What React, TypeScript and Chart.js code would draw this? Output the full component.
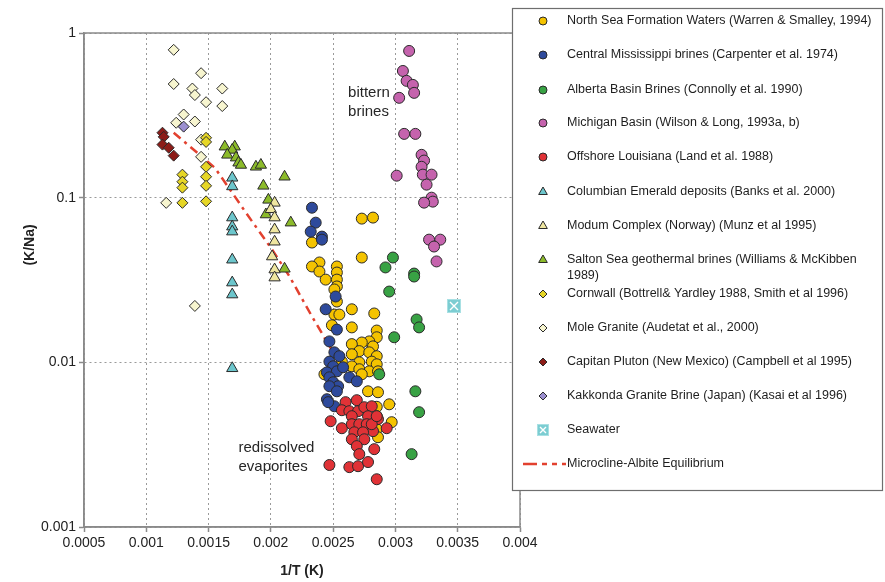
import React, { useEffect, useRef } from 'react';
import { Chart, registerables } from 'chart.js';

Chart.register(...registerables);

type P = [number, number];

const FONT = "'Liberation Sans', Arial, Helvetica, sans-serif";

const xTicks = [0.0005, 0.001, 0.0015, 0.002, 0.0025, 0.003, 0.0035, 0.004];
const yTicks = [0.001, 0.01, 0.1, 1];

const northSea: P[] = [
  [0.00233, 0.0534], [0.00239, 0.0404], [0.00233, 0.0382], [0.00239, 0.0356], [0.00244, 0.0318],
  [0.00253, 0.0382], [0.00253, 0.0351], [0.00253, 0.0318], [0.00253, 0.0289], [0.00251, 0.0277],
  [0.00253, 0.0234], [0.00251, 0.0195], [0.00255, 0.0195], [0.00265, 0.021], [0.00283, 0.0198],
  [0.00273, 0.0746], [0.00282, 0.0757], [0.00273, 0.0433], [0.00249, 0.0168], [0.00265, 0.0163],
  [0.00285, 0.0156], [0.00285, 0.0142], [0.00279, 0.0134], [0.00273, 0.0132], [0.00265, 0.0129],
  [0.00282, 0.0125], [0.00271, 0.0117], [0.00279, 0.0115], [0.00265, 0.0112], [0.00285, 0.0109],
  [0.00257, 0.0101], [0.00271, 0.01], [0.00281, 0.0101], [0.00285, 0.00973], [0.00265, 0.00946],
  [0.00271, 0.00908], [0.00279, 0.00882], [0.00286, 0.00882], [0.00243, 0.00846], [0.00273, 0.00846],
  [0.00278, 0.00667], [0.00286, 0.00658], [0.00295, 0.00556], [0.00285, 0.00537], [0.00285, 0.00471],
  [0.00297, 0.00433], [0.00285, 0.00393], [0.00286, 0.00351],
];

const centralMississippi: P[] = [
  [0.00233, 0.0869], [0.00236, 0.0705], [0.00232, 0.0622], [0.00241, 0.058], [0.00241, 0.0556],
  [0.00252, 0.0251], [0.00244, 0.021], [0.00253, 0.0158], [0.00247, 0.0134], [0.00251, 0.0115],
  [0.00255, 0.0109], [0.00247, 0.0101], [0.0025, 0.00946], [0.00245, 0.00869], [0.00253, 0.00882],
  [0.00247, 0.00811], [0.0025, 0.00757], [0.00254, 0.00716], [0.00247, 0.00716], [0.00263, 0.00811],
  [0.00269, 0.00767], [0.00245, 0.00597], [0.00251, 0.00541], [0.00258, 0.00933], [0.00253, 0.00667],
  [0.00246, 0.00573],
];

const albertaBasin: P[] = [
  [0.00298, 0.0433], [0.00292, 0.0377], [0.00315, 0.0346], [0.00315, 0.0332], [0.00295, 0.0269],
  [0.00317, 0.0182], [0.00319, 0.0163], [0.00299, 0.0142], [0.00287, 0.00846], [0.00316, 0.00667],
  [0.00319, 0.00498], [0.00313, 0.00277],
];

const michiganBasin: P[] = [
  [0.00311, 0.778], [0.00306, 0.588], [0.00309, 0.512], [0.00314, 0.484], [0.00315, 0.433],
  [0.00303, 0.404], [0.00307, 0.244], [0.00316, 0.244], [0.00321, 0.182], [0.00323, 0.168],
  [0.00321, 0.154], [0.00301, 0.136], [0.00322, 0.138], [0.00329, 0.138], [0.00325, 0.12],
  [0.00329, 0.1], [0.0033, 0.0946], [0.00323, 0.0933], [0.00327, 0.0556], [0.00336, 0.0556],
  [0.00331, 0.0505], [0.00333, 0.041],
];

const offshoreLouisiana: P[] = [
  [0.00248, 0.00439], [0.0026, 0.00573], [0.00269, 0.00589], [0.00257, 0.00512], [0.00263, 0.00505],
  [0.0027, 0.00505], [0.00265, 0.00471], [0.00275, 0.00534], [0.00281, 0.00541], [0.00278, 0.00471],
  [0.00286, 0.00452], [0.00257, 0.00398], [0.00265, 0.00421], [0.00271, 0.00421], [0.00277, 0.00421],
  [0.00282, 0.00382], [0.00267, 0.00376], [0.00274, 0.00376], [0.00265, 0.00341], [0.00275, 0.00341],
  [0.00269, 0.0031], [0.00283, 0.00297], [0.00271, 0.00277], [0.00293, 0.00398], [0.00247, 0.00238],
  [0.00263, 0.00231], [0.0027, 0.00234], [0.00278, 0.00248], [0.00285, 0.00195], [0.00281, 0.00421],
  [0.00285, 0.00471],
];

const columbianEmerald: P[] = [
  [0.00169, 0.132], [0.00169, 0.117], [0.00169, 0.0757], [0.00169, 0.0667], [0.00169, 0.0622],
  [0.00169, 0.042], [0.00169, 0.0305], [0.00169, 0.0258], [0.00169, 0.0092],
];

const modumComplex: P[] = [
  [0.00203, 0.093], [0.002, 0.085], [0.00203, 0.0757], [0.00203, 0.064], [0.00203, 0.054],
  [0.00201, 0.0439], [0.00203, 0.0366], [0.00203, 0.0327],
];

const saltonSea: P[] = [
  [0.00163, 0.204], [0.00171, 0.204], [0.00169, 0.195], [0.00165, 0.182], [0.00172, 0.175],
  [0.00174, 0.163], [0.00176, 0.158], [0.00188, 0.154], [0.00192, 0.158], [0.00194, 0.118],
  [0.00211, 0.134], [0.00198, 0.097], [0.00196, 0.079], [0.00216, 0.0705], [0.00211, 0.037],
];

const cornwall: P[] = [
  [0.00129, 0.138], [0.00129, 0.125], [0.00129, 0.115], [0.00129, 0.093], [0.00148, 0.231],
  [0.00148, 0.218], [0.00148, 0.154], [0.00148, 0.134], [0.00148, 0.118], [0.00148, 0.095],
];

const moleGranite: P[] = [
  [0.00122, 0.79], [0.00144, 0.57], [0.00122, 0.49], [0.00137, 0.46], [0.00139, 0.42],
  [0.00161, 0.46], [0.00148, 0.38], [0.00161, 0.36], [0.0013, 0.32], [0.00124, 0.285],
  [0.00139, 0.29], [0.00144, 0.225], [0.00144, 0.177], [0.00116, 0.093], [0.00139, 0.022],
];

const capitanPluton: P[] = [
  [0.00113, 0.248], [0.00114, 0.234], [0.00113, 0.21], [0.00118, 0.201], [0.00122, 0.18],
];

const kakkonda: P[] = [[0.0013, 0.27]];

const seawater: P[] = [[0.00347, 0.022]];

const microclineAlbite: P[] = [
  [0.00122, 0.248], [0.00155, 0.152], [0.00169, 0.107], [0.0018, 0.081], [0.00201, 0.0484],
  [0.00215, 0.0332], [0.00233, 0.019], [0.0025, 0.0115],
];

const seriesLabels = [
  'North Sea Formation Waters (Warren & Smalley, 1994)',
  'Central Mississippi brines (Carpenter et al. 1974)',
  'Alberta Basin Brines (Connolly et al. 1990)',
  'Michigan Basin (Wilson & Long, 1993a, b)',
  'Offshore Louisiana (Land et al. 1988)',
  'Columbian Emerald deposits (Banks et al. 2000)',
  'Modum Complex (Norway) (Munz et al 1995)',
  'Salton Sea geothermal brines (Williams & McKibben\n1989)',
  'Cornwall (Bottrell& Yardley 1988, Smith et al 1996)',
  'Mole Granite (Audetat et al., 2000)',
  'Capitan Pluton (New Mexico) (Campbell et al 1995)',
  'Kakkonda Granite Brine (Japan) (Kasai et al 1996)',
  'Seawater',
  'Microcline-Albite Equilibrium',
];

const annotationLabels = [
  { lines: ['bittern', 'brines'], x: 0.00262, y: [0.43, 0.33] },
  { lines: ['redissolved', 'evaporites'], x: 0.00174, y: [0.00301, 0.00231] },
];

function makeSeawaterIcon(size: number) {
  const c = document.createElement('canvas');
  c.width = size;
  c.height = size;
  const g = c.getContext('2d')!;
  g.fillStyle = '#7ccdd2';
  g.fillRect(0, 0, size, size);
  g.strokeStyle = '#a8e0e3';
  g.lineWidth = 1;
  g.strokeRect(0.5, 0.5, size - 1, size - 1);
  g.strokeStyle = '#ffffff';
  g.lineWidth = 1.4;
  g.beginPath();
  g.moveTo(3, 3);
  g.lineTo(size - 3, size - 3);
  g.moveTo(size - 3, 3);
  g.lineTo(3, size - 3);
  g.stroke();
  return c;
}

type Style = {
  shape: string;
  fill: string;
  radius: number;
  order: number;
};

const styles: Style[] = [
  { shape: 'circle', fill: '#f4c300', radius: 5.5, order: 5 },
  { shape: 'circle', fill: '#2e4a9c', radius: 5.5, order: 3 },
  { shape: 'circle', fill: '#38a244', radius: 5.5, order: 4 },
  { shape: 'circle', fill: '#c563ad', radius: 5.5, order: 4 },
  { shape: 'circle', fill: '#e03236', radius: 5.5, order: 2 },
  { shape: 'triangle', fill: '#6cc6cc', radius: 6.5, order: 6 },
  { shape: 'triangle', fill: '#efe6a0', radius: 6.5, order: 6 },
  { shape: 'triangle', fill: '#8cbb2a', radius: 6.5, order: 6 },
  { shape: 'rectRot', fill: '#e6d626', radius: 5.5, order: 6 },
  { shape: 'rectRot', fill: '#f7f5cf', radius: 5.5, order: 7 },
  { shape: 'rectRot', fill: '#8c1c18', radius: 5.5, order: 6 },
  { shape: 'rectRot', fill: '#9c90d0', radius: 5.5, order: 6 },
  { shape: 'image', fill: '#7ccdd2', radius: 7, order: 6 },
];

const seriesData: P[][] = [
  northSea, centralMississippi, albertaBasin, michiganBasin, offshoreLouisiana,
  columbianEmerald, modumComplex, saltonSea, cornwall, moleGranite, capitanPluton,
  kakkonda, seawater,
];

const LINE_COLOR = '#e2412f';
const LINE_DASH = [9, 5, 3, 5];

function drawMarker(ctx: CanvasRenderingContext2D, shape: string, x: number, y: number, r: number, fill: string) {
  ctx.save();
  ctx.fillStyle = fill;
  ctx.strokeStyle = '#2a2a2a';
  ctx.lineWidth = 1;
  ctx.beginPath();
  if (shape === 'circle') {
    ctx.arc(x, y, r, 0, Math.PI * 2);
  } else if (shape === 'triangle') {
    for (let i = 0; i < 3; i++) {
      const a = (i * 2 * Math.PI) / 3;
      const px = x + Math.sin(a) * r;
      const py = y - Math.cos(a) * r;
      if (i === 0) ctx.moveTo(px, py);
      else ctx.lineTo(px, py);
    }
  } else {
    ctx.moveTo(x - r, y);
    ctx.lineTo(x, y - r);
    ctx.lineTo(x + r, y);
    ctx.lineTo(x, y + r);
  }
  ctx.closePath();
  ctx.fill();
  ctx.stroke();
  ctx.restore();
}

export default function App() {
  const ref = useRef<HTMLCanvasElement>(null);

  useEffect(() => {
    const canvas = ref.current;
    if (!canvas) return;
    const seaIcon = makeSeawaterIcon(14);
    const seaLegendIcon = makeSeawaterIcon(12);

    const datasets: any[] = seriesData.map((d, i) => ({
      label: seriesLabels[i],
      data: d.map(([x, y]) => ({ x, y })),
      pointStyle: styles[i].shape === 'image' ? seaIcon : styles[i].shape,
      pointRadius: styles[i].radius,
      backgroundColor: styles[i].fill,
      borderColor: '#2a2a2a',
      borderWidth: 1,
      showLine: false,
      order: styles[i].order,
    }));
    datasets.push({
      label: seriesLabels[13],
      data: microclineAlbite.map(([x, y]) => ({ x, y })),
      showLine: true,
      pointRadius: 0,
      borderColor: LINE_COLOR,
      borderWidth: 2.5,
      borderDash: LINE_DASH,
      fill: false,
      tension: 0,
      order: 50,
    });

    const framePlugin = {
      id: 'frame',
      beforeDatasetsDraw(chart: any) {
        const { ctx, chartArea: a } = chart;
        ctx.save();
        ctx.strokeStyle = '#8a8a8a';
        ctx.lineWidth = 1.5;
        ctx.strokeRect(a.left, a.top, a.right - a.left, a.bottom - a.top);
        ctx.restore();
      },
    };

    const overlayPlugin = {
      id: 'overlay',
      afterDraw(chart: any) {
        const { ctx } = chart;
        const xs = chart.scales.x;
        const ys = chart.scales.y;

        // annotations
        ctx.save();
        ctx.fillStyle = '#262626';
        ctx.font = `15px ${FONT}`;
        ctx.textAlign = 'left';
        ctx.textBaseline = 'middle';
        annotationLabels.forEach((a) => {
          a.lines.forEach((t, k) => {
            ctx.fillText(t, xs.getPixelForValue(a.x), ys.getPixelForValue(a.y[k]));
          });
        });
        ctx.restore();

        // y axis title
        ctx.save();
        ctx.translate(30, 245);
        ctx.rotate(-Math.PI / 2);
        ctx.font = `bold 14px ${FONT}`;
        ctx.fillStyle = '#222';
        ctx.textAlign = 'center';
        ctx.textBaseline = 'middle';
        ctx.fillText('(K/Na)', 0, 0);
        ctx.restore();

        // legend box
        const bx = 512.5, by = 8.5, bw = 370, bh = 482;
        ctx.save();
        ctx.fillStyle = '#ffffff';
        ctx.fillRect(bx, by, bw, bh);
        ctx.strokeStyle = '#6e6e6e';
        ctx.lineWidth = 1.2;
        ctx.strokeRect(bx, by, bw, bh);
        ctx.font = `12.5px ${FONT}`;
        ctx.fillStyle = '#1e1e1e';
        ctx.textAlign = 'left';
        ctx.textBaseline = 'middle';
        const rowY = [21, 55, 90, 123, 157, 192, 226, 260, 294, 328, 362, 396, 430, 464];
        seriesLabels.forEach((label, i) => {
          const y = rowY[i];
          if (i < 13) {
            const s = styles[i];
            if (s.shape === 'image') {
              ctx.drawImage(seaLegendIcon, 543 - 6, y - 6);
            } else {
              drawMarker(ctx, s.shape, 543, y, s.shape === 'triangle' ? 5 : 4, s.fill);
            }
          } else {
            ctx.save();
            ctx.strokeStyle = LINE_COLOR;
            ctx.lineWidth = 2.5;
            ctx.setLineDash([14, 5, 5, 5, 5, 5]);
            ctx.beginPath();
            ctx.moveTo(523, y);
            ctx.lineTo(566, y);
            ctx.stroke();
            ctx.restore();
          }
          label.split('\n').forEach((line, k) => {
            ctx.fillText(line, 567, y + k * 16);
          });
        });
        ctx.restore();
      },
    };

    const chart = new Chart(canvas, {
      type: 'scatter',
      data: { datasets },
      options: {
        animation: false,
        responsive: false,
        devicePixelRatio: 1,
        layout: { padding: { top: 33, right: 365, bottom: 0, left: 0 } },
        plugins: {
          legend: { display: false },
          tooltip: { enabled: false },
        },
        scales: {
          x: {
            type: 'linear',
            min: 0.0005,
            max: 0.004,
            afterBuildTicks: (s: any) => {
              s.ticks = xTicks.map((v) => ({ value: v }));
            },
            afterFit: (s: any) => {
              s.height = 55;
            },
            ticks: {
              font: { family: FONT, size: 14 },
              color: '#222',
              padding: 3,
              maxRotation: 0,
              autoSkip: false,
              callback: (v: any) => String(v),
            },
            grid: {
              color: '#9a9a9a',
              lineWidth: 1,
              tickLength: 5,
              tickColor: '#8a8a8a',
              tickBorderDash: [],
              tickWidth: 1.5,
            },
            border: { color: '#8a8a8a', width: 1.5, dash: [2, 3] },
            title: {
              display: true,
              text: '1/T (K)',
              font: { family: FONT, size: 14, weight: 'bold' },
              color: '#222',
              padding: { top: 0, bottom: 2 },
            },
          },
          y: {
            type: 'logarithmic',
            min: 0.001,
            max: 1,
            afterBuildTicks: (s: any) => {
              s.ticks = yTicks.map((v) => ({ value: v }));
            },
            afterFit: (s: any) => {
              s.width = 84;
            },
            ticks: {
              font: { family: FONT, size: 14 },
              color: '#222',
              padding: 3,
              autoSkip: false,
              callback: (v: any) => String(v),
            },
            grid: {
              color: '#9a9a9a',
              lineWidth: 1,
              tickLength: 5,
              tickColor: '#8a8a8a',
              tickBorderDash: [],
              tickWidth: 1.5,
            },
            border: { color: '#8a8a8a', width: 1.5, dash: [2, 3] },
          },
        },
      } as any,
      plugins: [framePlugin, overlayPlugin],
    });

    return () => chart.destroy();
  }, []);

  return (
    <div style={{ position: 'fixed', left: 0, top: 0, width: 885, height: 582, background: '#fff' }}>
      <canvas ref={ref} width={885} height={582} style={{ width: 885, height: 582, display: 'block' }} />
    </div>
  );
}
